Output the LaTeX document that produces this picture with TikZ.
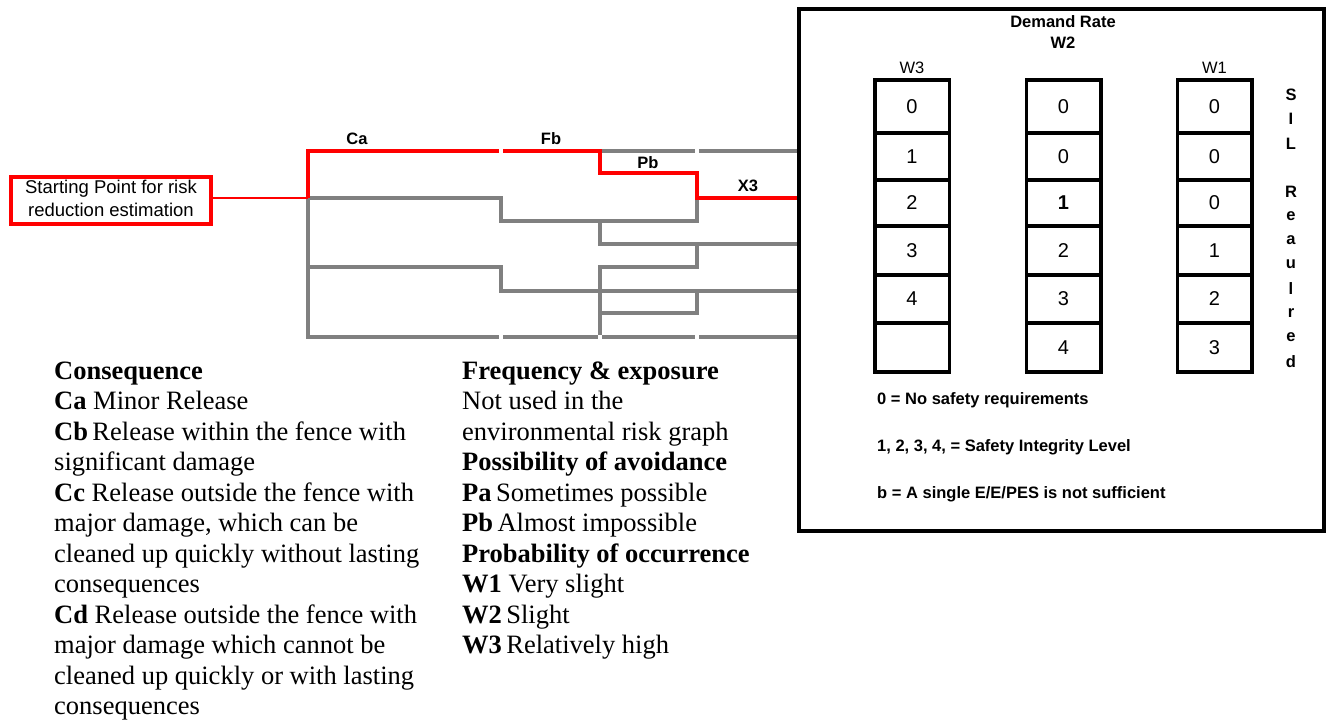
\documentclass[tikz,border=0pt]{standalone}
\usepackage{fontspec}
\setmainfont{Liberation Serif}
\newfontfamily\arial{Liberation Sans}
\begin{document}
\begin{tikzpicture}[x=1pt,y=-1pt,
  redline/.style={draw=red,line width=4},
  grayline/.style={draw=gray,line width=4},
  lbl/.style={inner sep=0,font=\arial\bfseries\fontsize{16.5}{18}\selectfont},
  cell/.style={draw=black,line width=3.5,minimum width=74.5,inner sep=0,font=\arial\fontsize{20}{22}\selectfont},
  leg/.style={anchor=base west,inner sep=0,font=\fontsize{26.5}{30}\selectfont},
  boxleg/.style={anchor=base west,inner sep=0,font=\arial\bfseries\fontsize{16.5}{18}\selectfont},
  sil/.style={inner sep=0,font=\arial\bfseries\fontsize{16.5}{18}\selectfont}]
\useasboundingbox (0,0) rectangle (1326,724);
\fill[white] (0,0) rectangle (1326,724);

% starting box
\node[draw=red,line width=4,minimum width=200,minimum height=47,inner sep=0,outer sep=0] (start) at (111,200.5) {};
\node[anchor=base,inner sep=0,font=\arial\fontsize{18.5}{20}\selectfont] (st1) at (111,193) {Starting Point for risk};
\node[anchor=base,inner sep=0,font=\arial\fontsize{18.5}{20}\selectfont] (st2) at (111,216.5) {reduction estimation};

\coordinate (root) at (308,198);
\coordinate (outA) at (797,151);
\coordinate (outB) at (797,198);
\coordinate (outD) at (797,244);
\coordinate (outF) at (797,291);
\coordinate (outH) at (797,337);

% gray tree
\draw[grayline] (root) -- (308,337) -- (499,337);
\draw[grayline] (503,337) -- (598,337);
\draw[grayline] (602,337) -- (695,337);
\draw[grayline] (699,337) -- (outH);
\draw[grayline] (602,151) -- (695,151);
\draw[grayline] (699,151) -- (outA);
\draw[grayline] (root) -- (501,198) -- (501,221) -- (697,221) -- (697,198);
\draw[grayline] (600,221) -- (600,244) -- (outD);
\draw[grayline] (697,244) -- (697,267) -- (600,267) -- (600,335);
\draw[grayline] (308,267) -- (501,267) -- (501,291) -- (outF);
\draw[grayline] (600,313) -- (697,313) -- (697,291);

% red path
\draw[draw=red,line width=2] (start.east |- root) -- (root);
\draw[redline] (root) -- (308,151) -- (499,151);
\draw[redline] (503,151) -- (600,151) -- (600,173) -- (697,173) -- (697,198) -- (outB);

% labels
\node[lbl] (lCa) at (357,139) {Ca};
\node[lbl] (lFb) at (551,139) {Fb};
\node[lbl] (lPb) at (648,163) {Pb};
\node[lbl] (lX3) at (748,186) {X3};

% right box
\draw[line width=4] (799,8.5) rectangle (1324,531);
\node[lbl] (dr) at (1063,21.5) {Demand Rate};
\node[lbl] (dw2) at (1063,43) {W2};
\node[inner sep=0,font=\arial\fontsize{16.5}{18}\selectfont] (hw3) at (912,68) {W3};
\node[inner sep=0,font=\arial\fontsize{16.5}{18}\selectfont] (hw1) at (1214.5,68) {W1};

\foreach \t/\b/\u/\v/\w [count=\i] in {80/133/0/0/0,133/180/1/0/0,180/226/2/ /0,226/275/3/2/1,275/323/4/3/2,323/372/ /4/3}{
  \node[cell,minimum height={\b-\t}] (a\i) at (912,{(\t+\b)/2}) {\u};
  \node[cell,minimum height={\b-\t}] (b\i) at (1063.5,{(\t+\b)/2}) {\v};
  \node[cell,minimum height={\b-\t}] (c\i) at (1214.5,{(\t+\b)/2}) {\w};
}
\node[inner sep=0,font=\arial\bfseries\fontsize{20}{22}\selectfont] (bold1) at (b3) {1};

\foreach \ch [count=\k from 0] in {S,I,L,{},R,e,a,u,l,r,e,d}{
  \node[sil] (sil\k) at (1291,{95+24.2*\k}) {\ch};
}

\node[boxleg] (bl1) at (877,404) {0 = No safety requirements};
\node[boxleg] (bl2) at (877,451) {1, 2, 3, 4, = Safety Integrity Level};
\node[boxleg] (bl3) at (877,498) {b = A single E/E/PES is not sufficient};

% left legend
\node[leg] (l0) at (54,379) {\textbf{Consequence}};
\node[leg] (l1) at (54,409.5) {\textbf{Ca} Minor Release};
\node[leg] (l2) at (54,440) {\textbf{Cb}\,Release within the fence with};
\node[leg] (l3) at (54,470.5) {significant damage};
\node[leg] (l4) at (54,501) {\textbf{Cc} Release outside the fence with};
\node[leg] (l5) at (54,531.5) {major damage, which can be};
\node[leg] (l6) at (54,562) {cleaned up quickly without lasting};
\node[leg] (l7) at (54,592.5) {consequences};
\node[leg] (l8) at (54,623) {\textbf{Cd} Release outside the fence with};
\node[leg] (l9) at (54,653.5) {major damage which cannot be};
\node[leg] (l10) at (54,684) {cleaned up quickly or with lasting};
\node[leg] (l11) at (54,714.5) {consequences};

% right legend
\node[leg] (r0) at (462,379) {\textbf{Frequency \& exposure}};
\node[leg] (r1) at (462,409.5) {Not used in the};
\node[leg] (r2) at (462,440) {environmental risk graph};
\node[leg] (r3) at (462,470.5) {\textbf{Possibility of avoidance}};
\node[leg] (r4) at (462,501) {\textbf{Pa}\,Sometimes possible};
\node[leg] (r5) at (462,531.5) {\textbf{Pb}\,Almost impossible};
\node[leg] (r6) at (462,562) {\textbf{Probability of occurrence}};
\node[leg] (r7) at (462,592.5) {\textbf{W1} Very slight};
\node[leg] (r8) at (462,623) {\textbf{W2}\,Slight};
\node[leg] (r9) at (462,653.5) {\textbf{W3}\,Relatively high};
\end{tikzpicture}
\end{document}
